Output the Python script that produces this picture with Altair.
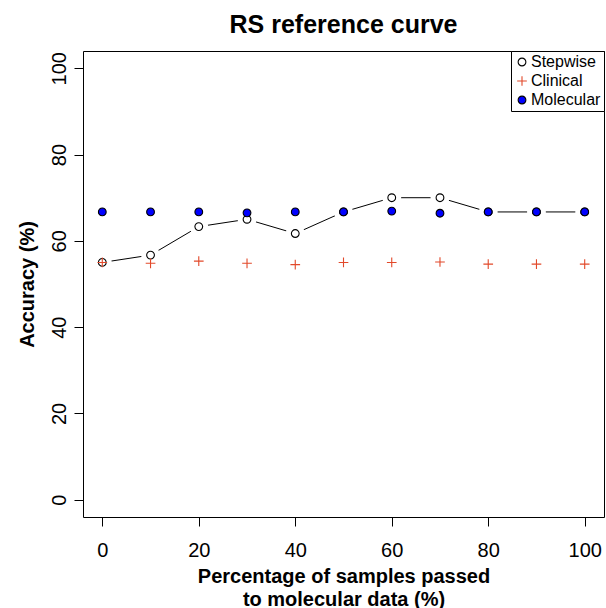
import altair as alt
import pandas as pd

# Accuracy (%) by share of samples passed to the molecular model
pct_passed = [0, 10, 20, 30, 40, 50, 60, 70, 80, 90, 100]
stepwise = [55.0, 56.7, 63.3, 65.0, 61.7, 66.7, 70.0, 70.0, 66.7, 66.7, 66.7]
clinical = [55.0, 54.8, 55.3, 54.8, 54.5, 55.0, 55.0, 55.1, 54.6, 54.6, 54.6]
molecular = [66.7, 66.7, 66.7, 66.5, 66.7, 66.7, 66.9, 66.4, 66.7, 66.7, 66.7]

series_names = ["Stepwise", "Clinical", "Molecular"]
series_fill = ["white", "transparent", "#0000FF"]
series_stroke = ["black", "#E2492A", "black"]
plus_path = "M-1.25,0H1.25M0,-1.25V1.25"
series_shape = ["circle", plus_path, "circle"]

FONT = "Liberation Sans"
W, H = 521, 466

rows = []
for name, vals in zip(series_names, [stepwise, clinical, molecular]):
    for x, v in zip(pct_passed, vals):
        rows.append({"pct": x, "acc": v, "series": name})
df = pd.DataFrame(rows)
df_step = df[df["series"] == "Stepwise"]

x_enc = alt.X(
    "pct:Q",
    scale=alt.Scale(domain=[-4, 104], nice=False, zero=False),
    axis=alt.Axis(
        values=[0, 20, 40, 60, 80, 100],
        title=["Percentage of samples passed", "to molecular data (%)"],
        titleFontSize=20,
        titleFontWeight="bold",
        titleLineHeight=23,
        titleBaseline="alphabetic",
        titleAlign="center",
        titleX=W / 2,
        titleY=65,
        labelFontSize=20,
        labelBaseline="top",
        labelPadding=14,
        tickSize=9,
    ),
)
y_enc = alt.Y(
    "acc:Q",
    scale=alt.Scale(domain=[-4, 104], nice=False, zero=False),
    axis=alt.Axis(
        values=[0, 20, 40, 60, 80, 100],
        title="Accuracy (%)",
        titleFontSize=20,
        titleFontWeight="bold",
        titleAngle=270,
        titleBaseline="middle",
        titleAlign="center",
        titleX=-56,
        titleY=H / 2,
        labelFontSize=20,
        labelAngle=270,
        labelAlign="center",
        labelBaseline="alphabetic",
        labelPadding=9,
        tickSize=9,
    ),
)

# stepwise connecting line, broken around each point by a white halo
line = alt.Chart(df_step).mark_line(color="black", strokeWidth=1).encode(x=x_enc, y=y_enc)
halo = alt.Chart(df_step).mark_point(
    shape="circle", size=360, filled=True, fill="white", opacity=1, strokeWidth=0
).encode(x=x_enc, y=y_enc)

points = alt.Chart(df).mark_point(size=60, strokeWidth=1.1, opacity=1).encode(
    x=x_enc,
    y=y_enc,
    fill=alt.Fill("series:N", scale=alt.Scale(domain=series_names, range=series_fill), title=None),
    stroke=alt.Stroke("series:N", scale=alt.Scale(domain=series_names, range=series_stroke), title=None),
    shape=alt.Shape("series:N", scale=alt.Scale(domain=series_names, range=series_shape), title=None),
)

chart = (
    alt.layer(line, halo, points)
    .properties(
        width=W,
        height=H,
        title=alt.TitleParams(
            "RS reference curve",
            fontSize=25,
            font=FONT,
            fontWeight="bold",
            anchor="middle",
            baseline="alphabetic",
            offset=18,
            dy=25,
            color="black",
        ),
        autosize=alt.AutoSizeParams(type="none"),
        padding={"left": 83, "top": 51, "right": 2, "bottom": 91},
    )
    .configure_view(stroke="black", strokeWidth=1)
    .configure_axis(
        grid=False,
        domain=False,
        labelFont=FONT,
        titleFont=FONT,
        labelColor="black",
        titleColor="black",
        tickColor="black",
        tickWidth=1,
    )
    .configure_legend(
        orient="none",
        legendX=428,
        legendY=0,
        padding=3,
        strokeColor="black",
        fillColor="white",
        cornerRadius=0,
        labelFont=FONT,
        labelFontSize=16,
        labelColor="black",
        labelOffset=1,
        rowPadding=3,
        symbolSize=60,
        symbolStrokeWidth=1.1,
    )
)

chart.save("out.html", embed_options={"renderer": "svg", "actions": False})
